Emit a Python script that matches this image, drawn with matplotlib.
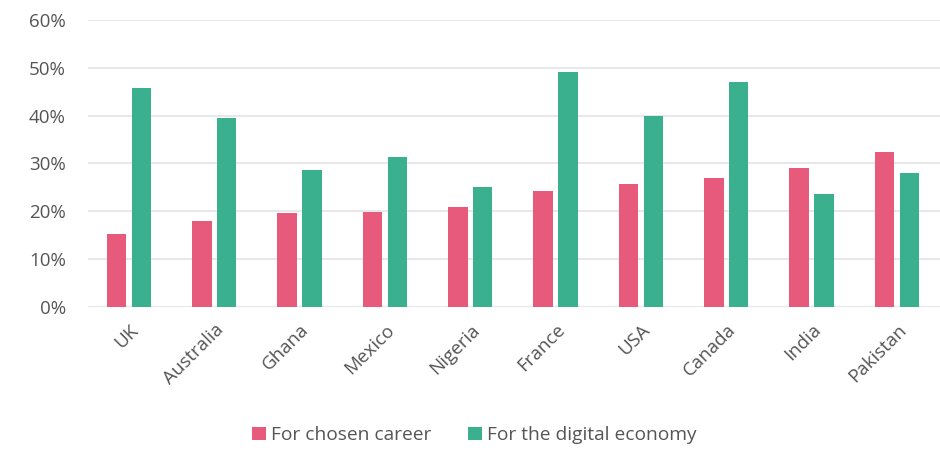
import matplotlib
matplotlib.use("Agg")
import matplotlib.pyplot as plt
import numpy as np

countries = ["UK", "Australia", "Ghana", "Mexico", "Nigeria", "France", "USA", "Canada", "India", "Pakistan"]
chosen_career = [15.2, 18.0, 19.7, 19.9, 20.8, 24.3, 25.7, 26.9, 29.0, 32.3]
digital_economy = [45.7, 39.5, 28.7, 31.4, 25.0, 49.2, 40.0, 47.1, 23.6, 28.0]
y_ticks = [0, 10, 20, 30, 40, 50, 60]
y_tick_labels = ["0%", "10%", "20%", "30%", "40%", "50%", "60%"]
series_names = ["For chosen career", "For the digital economy"]

PINK = "#E85A7B"
GREEN = "#3AB08E"
TEXT = "#555555"

plt.rcParams["font.family"] = ["Open Sans", "DejaVu Sans"]

fig = plt.figure(figsize=(9.4, 4.5), dpi=100)
ax = fig.add_axes([0.0936, 0.318, 0.906, 0.6376])

x = np.arange(len(countries))
w = 0.227
off = 0.146
ax.bar(x - off, chosen_career, width=w, color=PINK, label=series_names[0], zorder=3)
ax.bar(x + off, digital_economy, width=w, color=GREEN, label=series_names[1], zorder=3)

ax.set_xlim(-0.48, 9.5)
ax.set_ylim(0, 60)
ax.set_yticks(y_ticks)
ax.set_yticklabels(y_tick_labels, fontsize=13.5, color=TEXT)
ax.set_xticks(x)
ax.set_xticklabels(countries, rotation=45, ha="right", rotation_mode="anchor",
                   fontsize=13.5, color=TEXT)
ax.tick_params(axis="both", length=0)
ax.tick_params(axis="y", pad=16)
ax.tick_params(axis="x", pad=10)
ax.grid(axis="y", color="#e6e6e6", linewidth=1.3, zorder=0)
for s in ax.spines.values():
    s.set_visible(False)
ax.axhline(0, color="#dcdcdc", linewidth=1.3, zorder=1)

fig.legend(loc="center", bbox_to_anchor=(0.505, 0.033), ncol=2, frameon=False,
           fontsize=13.8, labelcolor=TEXT, handlelength=0.7, handleheight=0.7,
           handletextpad=0.3, columnspacing=1.9)

fig.savefig("out.png", dpi=100)
